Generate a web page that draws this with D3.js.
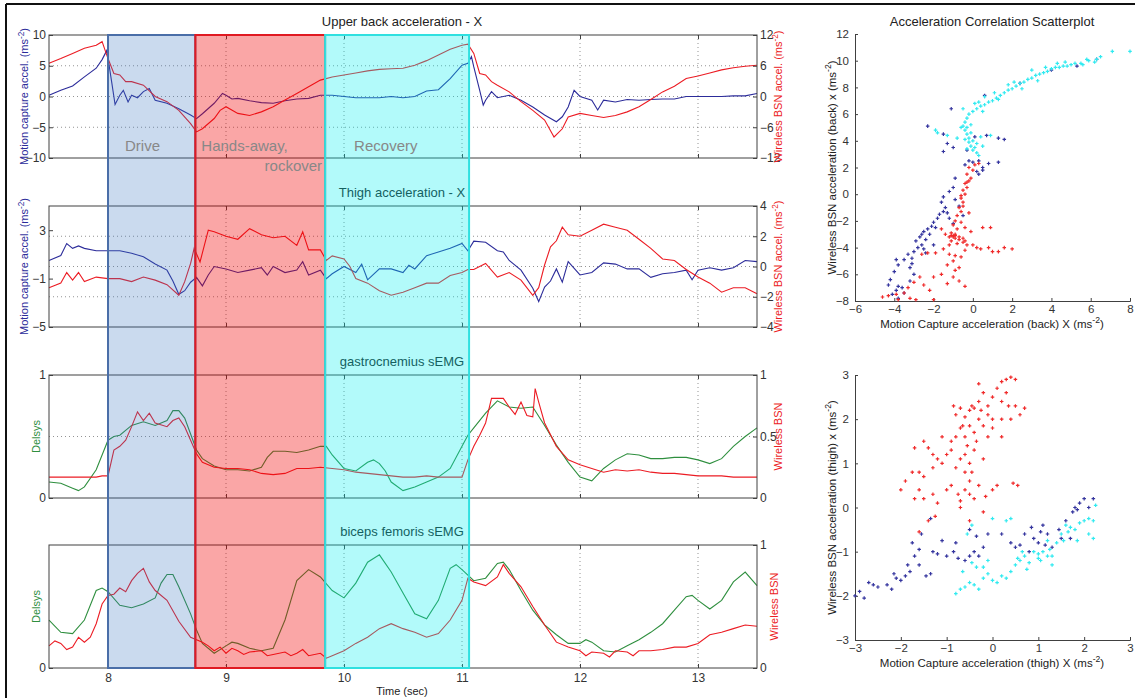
<!DOCTYPE html>
<html>
<head>
<meta charset="utf-8">
<script src="https://d3js.org/d3.v7.min.js"></script>
<style>
  body { margin: 0; background: #fff; }
  svg { display: block; font-family: "Liberation Sans", Arial, sans-serif; }
</style>
</head>
<body>
<div id="chart-area"></div>
<script>
// ---- data ----
const timeTicks = [8, 9, 10, 11, 12, 13];
const phaseNames = ["Drive", "Hands-away,", "Recovery"];
const phaseStart = [8.0, 8.74, 9.84];
const phaseEnd = [8.74, 9.84, 11.06];

// upper back, [time, value]
const backMocap = [[7.5,0.2],[7.6,1.0],[7.7,1.7],[7.8,3.2],[7.9,4.6],[7.95,6],[7.99,7.5],[8.03,2.5],[8.06,-1.3],[8.1,0.2],[8.13,1.0],[8.17,-0.9],[8.2,0.2],[8.25,-0.2],[8.3,0.8],[8.35,1.3],[8.4,-0.6],[8.5,-1.1],[8.6,-2],[8.7,-3],[8.75,-3.6],[8.8,-2.8],[8.9,-1.1],[8.97,0.5],[9.0,0.2],[9.05,-0.4],[9.1,-0.3],[9.2,-0.7],[9.3,-1],[9.4,-1.1],[9.5,-0.7],[9.6,-0.4],[9.7,-0.3],[9.8,0.2],[9.9,0.2],[10.0,0],[10.1,-0.2],[10.2,-0.2],[10.3,-0.2],[10.4,0],[10.5,-0.2],[10.6,0],[10.7,0.9],[10.8,1.1],[10.9,2.9],[11.0,5.1],[11.05,5.4],[11.08,6.5],[11.1,4.8],[11.15,1],[11.18,-1.4],[11.2,-0.6],[11.25,0.8],[11.3,-0.2],[11.4,0.2],[11.5,-0.6],[11.6,-1.7],[11.7,-3],[11.8,-4.1],[11.85,-3.3],[11.9,-1.7],[11.95,1],[12.0,0],[12.1,-0.6],[12.15,-2.2],[12.2,-0.6],[12.3,-0.9],[12.4,-0.5],[12.5,-0.6],[12.6,-0.5],[12.7,-0.4],[12.8,-0.4],[12.9,0],[13.0,0],[13.1,0],[13.2,0],[13.3,0.1],[13.4,0.1],[13.5,0.5]];
const backBsn = [[7.5,6.5],[7.6,7.4],[7.7,8.4],[7.8,9.4],[7.9,10],[7.95,10.7],[8.0,7.4],[8.05,4.5],[8.1,4.2],[8.15,2.9],[8.2,2.9],[8.3,2.2],[8.4,0],[8.5,-1],[8.6,-2.7],[8.7,-5.3],[8.75,-6.9],[8.8,-6.3],[8.9,-4.3],[8.95,-2.7],[9.0,-2],[9.1,-3.3],[9.2,-3.7],[9.3,-3],[9.4,-2],[9.5,-0.7],[9.6,0.6],[9.7,1.9],[9.8,3.2],[9.9,3.8],[10.0,4.2],[10.1,4.6],[10.2,5],[10.3,5.3],[10.4,5.4],[10.5,5.5],[10.6,6.1],[10.7,7],[10.8,8.1],[10.9,9.2],[11.0,10],[11.05,10.2],[11.1,8.4],[11.15,4.5],[11.2,4.2],[11.25,2.9],[11.3,2.2],[11.4,0.9],[11.5,-1],[11.6,-2.7],[11.7,-4.6],[11.78,-7.9],[11.85,-6.3],[11.9,-4],[12.0,-3.3],[12.1,-3.7],[12.2,-4.1],[12.3,-3.7],[12.4,-3],[12.5,-2],[12.6,-0.6],[12.7,0.9],[12.8,2],[12.9,3.5],[13.0,4],[13.1,4.6],[13.2,5.2],[13.3,5.6],[13.4,5.9],[13.5,6.1]];

// thigh
const thighMocap = [[7.5,0.5],[7.6,0.9],[7.65,1.9],[7.7,1.5],[7.75,1.7],[7.8,1.5],[7.9,1.3],[8.0,1.3],[8.1,1.3],[8.2,1.1],[8.3,0.8],[8.4,0.2],[8.5,-0.3],[8.55,-1.2],[8.6,-2.3],[8.65,-2],[8.7,-1.3],[8.75,-0.9],[8.8,-1.6],[8.85,-0.7],[8.9,0],[9.0,-0.2],[9.1,-0.5],[9.2,-0.3],[9.3,-0.1],[9.35,-0.7],[9.4,0],[9.5,-0.5],[9.6,-0.3],[9.65,0.4],[9.7,-0.7],[9.8,-0.3],[9.85,-1],[9.9,-0.6],[10.0,0],[10.1,-0.5],[10.15,0.2],[10.2,-1.1],[10.3,-0.2],[10.4,-0.2],[10.5,-0.5],[10.55,0.1],[10.6,-0.2],[10.7,0.9],[10.8,1.2],[10.9,1.5],[11.0,1.9],[11.05,1.3],[11.1,2.1],[11.2,2],[11.3,1.3],[11.35,1.2],[11.4,0.5],[11.5,-0.3],[11.6,-1.8],[11.65,-2.9],[11.7,-1.7],[11.75,-1.2],[11.8,-0.2],[11.85,-1.3],[11.9,0.4],[12.0,-0.7],[12.1,-0.5],[12.2,0.3],[12.3,0.2],[12.4,-0.2],[12.5,-0.2],[12.6,-0.9],[12.7,-0.6],[12.8,-0.5],[12.9,-0.3],[12.95,-1.1],[13.0,-0.3],[13.1,-0.1],[13.2,-0.3],[13.3,-0.1],[13.4,0.5],[13.5,0.4]];
const thighBsn = [[7.5,-1.4],[7.6,-1.1],[7.65,-0.4],[7.7,-0.9],[7.75,-0.4],[7.8,-1],[7.9,-0.7],[8.0,-0.8],[8.1,-0.8],[8.2,-1],[8.3,-0.7],[8.4,-0.9],[8.5,-1.2],[8.6,-1.9],[8.65,-1],[8.7,0.2],[8.73,1.2],[8.78,0.3],[8.85,2.4],[8.9,2.3],[9.0,2],[9.1,1.8],[9.2,2.5],[9.3,2.1],[9.4,1.9],[9.5,2],[9.6,1.4],[9.65,2.3],[9.7,1.1],[9.8,1.1],[9.85,0.4],[9.9,0.7],[10.0,0.5],[10.05,0],[10.1,-0.8],[10.2,-1.1],[10.3,-1.6],[10.4,-1.9],[10.5,-1.7],[10.6,-1.4],[10.7,-1.1],[10.8,-1.1],[10.9,-0.6],[11.0,-0.4],[11.05,-0.2],[11.1,-0.2],[11.2,0.2],[11.3,-0.7],[11.4,-0.4],[11.5,-0.9],[11.6,-1.9],[11.65,-1.4],[11.7,0.1],[11.75,1.3],[11.8,1.7],[11.85,2.6],[11.9,2.1],[12.0,2],[12.1,2.4],[12.2,2.8],[12.3,2.6],[12.4,2.4],[12.5,1.8],[12.6,1.2],[12.7,0.5],[12.8,0.4],[12.9,-0.2],[13.0,-0.7],[13.1,-1.1],[13.2,-1.7],[13.3,-1.4],[13.4,-1.4],[13.5,-1.8]];

// gastrocnemius sEMG
const gastroDelsys = [[7.5,0.13],[7.6,0.12],[7.7,0.08],[7.75,0.06],[7.8,0.09],[7.9,0.23],[7.95,0.35],[8.0,0.47],[8.05,0.5],[8.1,0.51],[8.2,0.59],[8.3,0.62],[8.4,0.59],[8.5,0.63],[8.55,0.71],[8.6,0.71],[8.65,0.65],[8.7,0.52],[8.75,0.39],[8.8,0.32],[8.9,0.26],[9.0,0.23],[9.1,0.23],[9.2,0.22],[9.3,0.25],[9.35,0.33],[9.4,0.38],[9.5,0.38],[9.6,0.37],[9.7,0.39],[9.8,0.42],[9.85,0.42],[9.9,0.35],[10.0,0.24],[10.1,0.22],[10.2,0.29],[10.25,0.31],[10.3,0.28],[10.35,0.22],[10.4,0.13],[10.5,0.06],[10.6,0.09],[10.7,0.13],[10.8,0.17],[10.9,0.24],[11.0,0.42],[11.05,0.51],[11.1,0.57],[11.2,0.69],[11.3,0.79],[11.4,0.74],[11.5,0.73],[11.6,0.74],[11.7,0.59],[11.8,0.43],[11.9,0.29],[12.0,0.17],[12.1,0.14],[12.2,0.24],[12.3,0.31],[12.4,0.36],[12.5,0.35],[12.6,0.32],[12.7,0.32],[12.8,0.33],[12.9,0.33],[13.0,0.31],[13.1,0.28],[13.2,0.32],[13.3,0.42],[13.4,0.5],[13.5,0.57]];
const gastroBsn = [[7.5,0.17],[7.6,0.17],[7.7,0.17],[7.8,0.17],[7.9,0.17],[7.95,0.18],[8.0,0.18],[8.05,0.39],[8.1,0.42],[8.15,0.47],[8.2,0.58],[8.25,0.7],[8.3,0.63],[8.35,0.69],[8.4,0.61],[8.5,0.58],[8.55,0.63],[8.6,0.65],[8.65,0.58],[8.7,0.47],[8.75,0.36],[8.8,0.29],[8.9,0.25],[9.0,0.24],[9.1,0.24],[9.2,0.23],[9.3,0.2],[9.4,0.19],[9.5,0.2],[9.6,0.24],[9.7,0.24],[9.8,0.25],[9.9,0.24],[10.0,0.23],[10.1,0.21],[10.2,0.2],[10.3,0.19],[10.4,0.18],[10.5,0.17],[10.6,0.17],[10.7,0.18],[10.8,0.17],[10.9,0.17],[11.0,0.17],[11.05,0.31],[11.1,0.42],[11.15,0.51],[11.2,0.61],[11.25,0.81],[11.3,0.81],[11.35,0.81],[11.4,0.74],[11.45,0.68],[11.5,0.78],[11.55,0.67],[11.6,0.66],[11.62,0.89],[11.65,0.78],[11.7,0.61],[11.8,0.42],[11.9,0.31],[12.0,0.27],[12.1,0.24],[12.2,0.21],[12.3,0.23],[12.4,0.22],[12.5,0.23],[12.6,0.21],[12.7,0.2],[12.8,0.2],[12.9,0.19],[13.0,0.18],[13.1,0.18],[13.2,0.18],[13.3,0.17],[13.4,0.17],[13.5,0.17]];

// biceps femoris sEMG
const bicepsDelsys = [[7.5,0.39],[7.6,0.29],[7.7,0.28],[7.8,0.39],[7.9,0.63],[7.95,0.65],[8.0,0.62],[8.1,0.51],[8.2,0.49],[8.3,0.52],[8.4,0.57],[8.45,0.69],[8.5,0.76],[8.55,0.76],[8.6,0.66],[8.7,0.44],[8.75,0.31],[8.8,0.2],[8.9,0.12],[9.0,0.18],[9.05,0.21],[9.1,0.2],[9.2,0.16],[9.3,0.14],[9.4,0.16],[9.5,0.39],[9.6,0.71],[9.7,0.8],[9.8,0.74],[9.9,0.63],[10.0,0.57],[10.1,0.69],[10.2,0.86],[10.3,0.92],[10.4,0.78],[10.5,0.61],[10.6,0.44],[10.7,0.4],[10.8,0.55],[10.9,0.81],[10.95,0.84],[11.0,0.8],[11.1,0.71],[11.2,0.73],[11.3,0.85],[11.35,0.86],[11.4,0.8],[11.5,0.63],[11.6,0.47],[11.7,0.35],[11.8,0.27],[11.9,0.2],[12.0,0.2],[12.05,0.23],[12.1,0.21],[12.2,0.14],[12.3,0.13],[12.4,0.18],[12.5,0.23],[12.6,0.29],[12.7,0.36],[12.8,0.47],[12.9,0.58],[12.95,0.59],[13.0,0.55],[13.1,0.48],[13.2,0.55],[13.3,0.7],[13.4,0.78],[13.5,0.67]];
const bicepsBsn = [[7.5,0.18],[7.55,0.22],[7.6,0.2],[7.65,0.15],[7.7,0.17],[7.75,0.25],[7.8,0.21],[7.85,0.25],[7.9,0.36],[7.95,0.52],[8.0,0.59],[8.05,0.6],[8.1,0.65],[8.15,0.62],[8.2,0.71],[8.25,0.77],[8.3,0.81],[8.35,0.7],[8.4,0.63],[8.5,0.55],[8.6,0.38],[8.7,0.25],[8.8,0.21],[8.85,0.18],[8.9,0.14],[8.95,0.17],[9.0,0.12],[9.05,0.16],[9.1,0.14],[9.15,0.11],[9.2,0.13],[9.3,0.14],[9.35,0.1],[9.4,0.11],[9.5,0.13],[9.55,0.1],[9.6,0.12],[9.65,0.15],[9.7,0.1],[9.8,0.12],[9.85,0.08],[9.9,0.1],[10.0,0.14],[10.1,0.2],[10.2,0.25],[10.3,0.32],[10.4,0.36],[10.5,0.32],[10.6,0.29],[10.7,0.25],[10.8,0.28],[10.9,0.39],[11.0,0.55],[11.05,0.73],[11.1,0.7],[11.2,0.67],[11.3,0.74],[11.35,0.84],[11.4,0.77],[11.5,0.66],[11.6,0.5],[11.7,0.35],[11.8,0.21],[11.9,0.17],[12.0,0.14],[12.05,0.1],[12.1,0.13],[12.2,0.12],[12.25,0.09],[12.3,0.14],[12.4,0.13],[12.45,0.1],[12.5,0.14],[12.6,0.14],[12.7,0.15],[12.8,0.17],[12.9,0.17],[13.0,0.2],[13.1,0.27],[13.2,0.29],[13.3,0.32],[13.4,0.35],[13.5,0.34]];

// y tick labels of the time panels
const backLeftTicks = [-10, -5, 0, 5, 10];
const backRightTicks = [-12, -6, 0, 6, 12];
const thighLeftTicks = [-5, -1, 3];
const thighRightTicks = [-4, -2, 0, 2, 4];
const gastroLeftTicks = [0, 1];
const gastroRightTicks = [0, 0.5, 1];
const bicepsLeftTicks = [0];
const bicepsRightTicks = [0, 1];

// scatter plots, [motion capture, wireless BSN]
const backDrive = [[-1.5,4.5],[-1.3,3.8],[-1.5,3.2],[-1.0,3.5],[0.3,2.5],[0.8,2.3],[1.3,2.4],[0.5,1.8],[0.3,1.5],[0.5,2.0],[-0.2,2.5],[0,2.4],[-0.4,2.2],[0.7,4.4],[1.3,4.2],[1.6,4.1],[-1.1,6.4],[-2.3,5.1],[0.1,4.3],[-0.9,1.2],[-1.0,0.5],[-1.2,0.2],[-1.5,-0.2],[-0.9,-0.4],[-1.6,-0.6],[-1.4,-1.0],[-1.5,-1.3],[-1.7,-1.5],[-1.8,-1.8],[-2.0,-2.1],[-2.1,-2.4],[-2.3,-2.6],[-2.5,-2.8],[-2.2,-3.0],[-2.7,-3.2],[-2.4,-3.4],[-2.9,-3.5],[-2.6,-3.8],[-2.0,-3.8],[-2.5,-4.1],[-3.0,-4.3],[-2.8,-4.0],[-3.3,-4.5],[-3.5,-4.9],[-3.1,-4.8],[-3.9,-4.9],[-3.8,-5.3],[-4.0,-5.8],[-4.2,-6.4],[-4.3,-6.8],[-3.8,-6.9],[-3.9,-7.2],[-3.6,-7.0],[-4.1,-7.5],[-3.8,-7.8],[-3.5,-7.4],[-3.2,-6.5],[-3.0,-6.0],[-3.2,-5.5],[-3.1,-5.2],[-2.4,-4.4],[-1.0,-2.2],[-0.5,-1.6],[-0.7,-0.9],[-1.2,-1.8],[-0.3,3.3],[6.3,10.1],[5.3,9.6],[4.0,9.3],[2.4,8.3],[0.6,7.4],[0.2,1.7],[-1.3,-1.4],[-2.6,-3.0],[-1.9,-2.5]];
const backHands = [[0.3,2.3],[-0.2,2.0],[0,1.8],[-0.3,1.5],[-0.1,1.2],[-0.4,0.8],[-0.3,0.5],[-0.5,0.3],[-0.4,0],[-0.6,-0.3],[-0.5,-0.6],[-0.7,-1.0],[-0.6,-1.3],[-0.8,-1.6],[-0.9,-2.0],[-1.0,-2.3],[-0.8,-2.6],[-1.1,-2.9],[-1.0,-3.1],[-1.2,-3.2],[-0.9,-3.3],[-0.7,-3.4],[-0.5,-3.6],[-0.3,-3.8],[0,-3.8],[-1.4,-3.0],[-1.6,-2.6],[-1.2,-3.8],[-0.4,-4.2],[0.2,-4.0],[0.4,-4.1],[0.8,-4.0],[1.0,-4.3],[1.3,-4.3],[1.6,-4.0],[2.0,-4.1],[0.5,-2.5],[0.9,-2.5],[-0.4,-2.5],[-0.1,-2.8],[-1.5,-4.1],[-1.9,-4.4],[-2.3,-4.4],[-2.6,-4.5],[-1.2,-4.5],[-0.9,-4.6],[-0.6,-4.7],[-1.0,-5.0],[-1.3,-5.3],[-0.9,-5.7],[-0.7,-5.5],[-1.6,-6.0],[-1.0,-6.2],[-0.7,-6.5],[-0.4,-6.9],[-1.3,-6.7],[-2.0,-6.2],[-2.7,-6.2],[-3.0,-6.6],[-2.5,-6.8],[-2.2,-7.2],[-3.3,-7.0],[-3.5,-7.4],[-3.9,-7.5],[-4.6,-7.7],[-4.3,-7.6],[-3.2,-7.8],[-2.9,-7.9],[-3.8,-7.9],[-2.0,-7.9],[-0.9,-3.0],[-0.8,-3.7],[-1.1,-3.5],[-0.6,-2.1],[-0.2,-1.4],[-0.3,0.9],[0.1,2.2],[-0.2,1.0],[-1.0,-3.2],[-0.9,-3.1],[-1.1,-3.1],[-0.7,-3.2],[-0.5,-3.3],[-0.4,-3.5],[-0.6,-0.1],[-0.5,-0.9]];
const backRecovery = [[8.0,10.7],[7.1,10.7],[6.5,10.3],[6.3,10.1],[6.2,9.9],[5.9,10],[5.5,9.8],[5.2,9.8],[5.0,9.7],[4.8,9.6],[4.6,9.6],[4.4,9.5],[4.2,9.5],[4.0,9.4],[3.8,9.2],[3.6,9.1],[3.4,9.0],[3.2,8.9],[3.0,8.7],[2.8,8.6],[2.6,8.4],[2.4,8.3],[2.2,8.1],[2.0,7.9],[1.8,7.8],[1.6,7.6],[1.4,7.4],[1.2,7.2],[1.0,7.0],[0.8,6.9],[0.6,6.7],[0.4,6.6],[0.2,6.4],[0.0,6.2],[-0.2,6.0],[-0.3,5.7],[-0.4,5.4],[-0.5,5.1],[-0.4,4.8],[-0.3,4.5],[-0.2,4.2],[-0.2,3.9],[-0.1,3.6],[0.0,3.3],[0.2,3.1],[0.3,2.9],[0.0,4.0],[0.4,4.3],[0.5,3.6],[-0.6,5.0],[-0.1,5.2],[0.5,6.2],[1.1,7.6],[2.5,7.9],[3.3,8.5],[4.3,9.8],[5.6,9.7],[-1.9,4.8],[-1.8,4.6],[-1.3,4.4],[0.9,4.4],[0.1,6.8],[-0.5,6.4],[0.6,7.3],[1.8,8.2],[3.0,9.3],[-0.8,4.2],[0.2,3.8],[-0.3,3.4],[-0.1,4.6],[-0.3,5.0],[0.1,3.5],[-0.4,4.1],[4.7,9.9],[5.8,10.1],[3.7,9.5],[2.1,8.4],[1.3,7.1],[0.3,6.9]];

const thighDrive = [[-3,-2.0],[-2.9,-1.9],[-2.8,-2.05],[-2.7,-1.7],[-2.6,-1.75],[-2.5,-1.8],[-2.3,-1.75],[-2.2,-1.85],[-2.15,-1.5],[-2.1,-1.6],[-2.0,-1.65],[-1.9,-1.55],[-1.8,-1.45],[-1.85,-1.3],[-1.7,-1.1],[-1.6,-1.3],[-1.75,-0.8],[-1.6,-0.95],[-1.45,-1.55],[-1.35,-1.5],[-1.3,-1.0],[-1.2,-1.05],[-1.0,-1.1],[-0.85,-1.0],[-0.8,-0.8],[-0.6,-1.2],[-0.5,-1.1],[-0.4,-1.0],[-0.3,-1.1],[-0.2,-0.9],[-0.35,-0.65],[-0.5,-0.5],[-0.1,-0.6],[0.2,-0.6],[0.4,-0.8],[0.5,-0.9],[0.6,-0.85],[0.7,-0.6],[0.85,-0.45],[0.9,-0.7],[1.0,-0.8],[1.05,-0.55],[1.1,-0.4],[1.15,-0.85],[1.2,-0.6],[1.3,-0.9],[1.45,-0.5],[1.6,-0.3],[1.75,-0.1],[1.8,0.0],[1.85,-0.05],[1.9,0.1],[2.0,0.2],[2.1,0.0],[2.2,0.2],[1.5,-0.7],[1.7,-0.7],[0.8,-1.0],[-1.35,-0.25],[-0.75,-1.15],[-1.55,-0.6],[-1.1,-0.75]];
const thighHands = [[0.3,2.9],[0.4,2.95],[0.5,2.9],[0.2,2.85],[0.1,2.7],[0.3,2.6],[-0.2,2.6],[0,2.5],[0.2,2.4],[0.5,2.3],[0.7,2.25],[0.4,2.0],[0.6,2.1],[0.2,2.0],[-0.1,2.3],[-0.3,2.4],[-0.4,2.25],[-0.5,2.2],[-0.7,2.25],[-0.8,2.1],[-0.85,2.3],[-0.6,2.05],[-0.3,2.0],[-0.1,2.1],[-0.2,1.85],[-0.5,1.85],[-0.7,1.8],[-0.4,1.7],[-0.6,1.6],[-0.8,1.6],[-0.9,1.5],[-0.55,1.4],[-0.35,1.5],[-0.1,1.6],[0,1.8],[-0.6,1.2],[-0.7,1.1],[-0.8,0.9],[-0.6,0.8],[-0.5,1.0],[-0.4,1.3],[-0.9,1.3],[-1.0,1.2],[-1.1,1.0],[-1.2,1.1],[-1.3,0.9],[-1.5,1.5],[-1.4,1.35],[-1.1,1.6],[-1.3,1.2],[-1.7,1.35],[-1.6,0.8],[-1.5,0.7],[-1.9,0.6],[-2.0,0.4],[-1.7,0.2],[-1.5,0.2],[-1.6,0.4],[-1.3,0.3],[-1.2,0.1],[-0.9,0.5],[-1.0,0.4],[-0.75,0.3],[-0.7,0.15],[-0.6,0.4],[-0.5,0.6],[-0.4,0.2],[-0.5,0.3],[-0.3,0.5],[-0.15,0.25],[0.0,0.4],[0.1,0.5],[0.45,0.55],[0.55,0.5],[-0.7,0.0],[-0.5,-0.3],[-0.2,-0.1],[-1.4,-0.3],[-1.6,-0.55],[-1.25,-0.2],[-1.75,0.8],[-0.2,1.1],[0.2,1.6],[-0.45,0.8],[0.0,2.0],[-0.3,2.8],[0.35,2.3],[-0.65,1.85],[-0.25,2.2],[-0.45,2.3]];
const thighRecovery = [[-0.8,-1.95],[-0.7,-1.85],[-0.6,-1.8],[-0.5,-1.7],[-0.4,-1.75],[-0.3,-1.85],[-0.2,-1.6],[-0.1,-1.5],[0.0,-1.65],[0.1,-1.7],[0.2,-1.55],[0.3,-1.6],[0.4,-1.45],[0.5,-1.3],[0.55,-1.15],[0.6,-1.2],[0.7,-1.1],[0.8,-1.25],[0.9,-1.0],[1.0,-1.05],[1.1,-1.0],[1.2,-1.1],[1.25,-0.95],[1.3,-1.1],[1.4,-0.8],[1.5,-0.6],[1.6,-0.4],[1.7,-0.45],[1.8,-0.5],[1.9,-0.35],[2.0,-0.3],[2.1,-0.25],[2.2,-0.3],[2.2,-0.7],[2.25,0.05],[2.1,-0.6],[1.85,-0.75],[1.55,-0.75],[-0.45,-1.25],[-0.35,-1.35],[-0.55,-0.6],[-0.45,-0.4],[-0.1,-1.2],[0.0,-0.25],[0.3,-0.3],[0.4,-0.25],[-0.2,-1.35],[-0.65,-1.45],[0.75,-1.4],[1.0,-1.15],[1.3,-1.3],[1.2,-0.75],[0.65,-1.0],[1.05,-1.2],[1.65,-0.55]];

const backScatterXTicks = [-6, -4, -2, 0, 2, 4, 6, 8];
const backScatterYTicks = [-8, -6, -4, -2, 0, 2, 4, 6, 8, 10, 12];
const thighScatterTicks = [-3, -2, -1, 0, 1, 2, 3];

// ---- colours ----
const blue = "#2c2c9a";
const red = "#ec1c24";
const green = "#2f8f3f";
const axisColor = "#404040";

const svg = d3.select("#chart-area").append("svg")
    .attr("width", 1135)
    .attr("height", 698);

// frame of the original figure
svg.append("line").attr("x1", 6).attr("x2", 1135).attr("y1", 4).attr("y2", 4)
    .attr("stroke", "#111").attr("stroke-width", 2);
svg.append("line").attr("x1", 6).attr("x2", 6).attr("y1", 4).attr("y2", 698)
    .attr("stroke", "#111").attr("stroke-width", 2);

const x = d3.scaleLinear().domain([7.5, 13.5]).range([49, 757]);

// unit label "(ms-2)" with a superscript
function unitLabel(sel, text) {
    sel.append("tspan").text(text + " (ms");
    sel.append("tspan").attr("baseline-shift", "super").attr("font-size", "75%").text("-2");
    sel.append("tspan").text(")");
}

const panels = [
    { title: "Upper back acceleration - X", top: 35, bottom: 158,
      leftDomain: [-10, 10], leftTicks: backLeftTicks, rightDomain: [-12, 12], rightTicks: backRightTicks,
      grid: [-6, 0, 6], leftData: backMocap, rightData: backBsn, leftColor: blue,
      leftLabel: "Motion capture accel.", rightLabel: "Wireless BSN accel.", units: true },
    { title: "Thigh acceleration - X", top: 206, bottom: 327,
      leftDomain: [-5, 5], leftTicks: thighLeftTicks, rightDomain: [-4, 4], rightTicks: thighRightTicks,
      grid: [-2, 0, 2], leftData: thighMocap, rightData: thighBsn, leftColor: blue,
      leftLabel: "Motion capture accel.", rightLabel: "Wireless BSN accel.", units: true },
    { title: "gastrocnemius sEMG", top: 375, bottom: 498,
      leftDomain: [0, 1], leftTicks: gastroLeftTicks, rightDomain: [0, 1], rightTicks: gastroRightTicks,
      grid: [0.5], leftData: gastroDelsys, rightData: gastroBsn, leftColor: green,
      leftLabel: "Delsys", rightLabel: "Wireless BSN", units: false },
    { title: "biceps femoris sEMG", top: 545, bottom: 668,
      leftDomain: [0, 1], leftTicks: bicepsLeftTicks, rightDomain: [0, 1], rightTicks: bicepsRightTicks,
      grid: [], leftData: bicepsDelsys, rightData: bicepsBsn, leftColor: green,
      leftLabel: "Delsys", rightLabel: "Wireless BSN", units: false }
];

panels.forEach((p, i) => {
    const yL = d3.scaleLinear().domain(p.leftDomain).range([p.bottom, p.top]);
    const yR = d3.scaleLinear().domain(p.rightDomain).range([p.bottom, p.top]);
    const g = svg.append("g");

    // dotted grid
    g.selectAll(".vgrid").data(timeTicks).enter().append("line")
        .attr("x1", d => x(d)).attr("x2", d => x(d))
        .attr("y1", p.top).attr("y2", p.bottom)
        .attr("stroke", "#777").attr("stroke-width", 0.8).attr("stroke-dasharray", "1,3");
    g.selectAll(".hgrid").data(p.grid).enter().append("line")
        .attr("x1", x.range()[0]).attr("x2", x.range()[1])
        .attr("y1", d => yR(d)).attr("y2", d => yR(d))
        .attr("stroke", "#777").attr("stroke-width", 0.8).attr("stroke-dasharray", "1,3");

    // the two signals
    const lineL = d3.line().x(d => x(d[0])).y(d => yL(d[1]));
    const lineR = d3.line().x(d => x(d[0])).y(d => yR(d[1]));
    g.append("path").attr("d", lineL(p.leftData))
        .attr("fill", "none").attr("stroke", p.leftColor).attr("stroke-width", 1.1);
    g.append("path").attr("d", lineR(p.rightData))
        .attr("fill", "none").attr("stroke", red).attr("stroke-width", 1.1);

    // box
    g.append("rect").attr("x", x.range()[0]).attr("y", p.top)
        .attr("width", x.range()[1] - x.range()[0]).attr("height", p.bottom - p.top)
        .attr("fill", "none").attr("stroke", axisColor).attr("stroke-width", 1);

    // axes, ticks pointing inwards
    const left = g.append("g").attr("transform", `translate(${x.range()[0]},0)`)
        .call(d3.axisLeft(yL).tickValues(p.leftTicks).tickSize(-4).tickPadding(3).tickFormat(d3.format("")));
    const right = g.append("g").attr("transform", `translate(${x.range()[1]},0)`)
        .call(d3.axisRight(yR).tickValues(p.rightTicks).tickSize(-4).tickPadding(3).tickFormat(d3.format("")));
    const topAx = g.append("g").attr("transform", `translate(0,${p.top})`)
        .call(d3.axisTop(x).tickValues(timeTicks).tickSize(-4).tickFormat(""));
    const bottomAx = g.append("g").attr("transform", `translate(0,${p.bottom})`)
        .call(d3.axisBottom(x).tickValues(timeTicks).tickSize(-4).tickPadding(5)
            .tickFormat(i === 3 ? d3.format("") : ""));
    [left, right, topAx, bottomAx].forEach(a => {
        a.select(".domain").remove();
        a.selectAll("line").attr("stroke", axisColor);
        a.selectAll("text").attr("fill", "#333").attr("font-size", 12)
            .attr("font-family", "Liberation Sans, Arial, sans-serif");
    });

    // panel title
    g.append("text").attr("x", 402).attr("y", p.top - 9).attr("text-anchor", "middle")
        .attr("font-size", 13).attr("fill", "#222").text(p.title);

    // axis labels
    const mid = (p.top + p.bottom) / 2;
    const ll = g.append("text").attr("transform", `translate(${p.units ? 28 : 40},${mid}) rotate(-90)`)
        .attr("text-anchor", "middle").attr("font-size", 11).attr("fill", p.leftColor);
    const rl = g.append("text").attr("transform", `translate(${i === 3 ? 778 : 782},${mid}) rotate(-90)`)
        .attr("text-anchor", "middle").attr("font-size", 11).attr("fill", red);
    if (p.units) { unitLabel(ll, p.leftLabel); unitLabel(rl, p.rightLabel); }
    else { ll.text(p.leftLabel); rl.text(p.rightLabel); }
});

svg.append("text").attr("x", 402).attr("y", 695).attr("text-anchor", "middle")
    .attr("font-size", 11).attr("fill", "#222").text("Time (sec)");

// phase bands laid over all four panels
const bandFill = ["#3a78c0", "#f00000", "#00f0f0"];
const bandFillOpacity = [0.27, 0.35, 0.3];
const bandStroke = ["#4a6ea8", "#e01a22", "#2fe0e0"];
svg.selectAll(".band").data(phaseStart).enter().append("rect")
    .attr("x", (d, i) => x(d))
    .attr("y", 35)
    .attr("width", (d, i) => x(phaseEnd[i]) - x(d))
    .attr("height", 668 - 35)
    .attr("fill", (d, i) => bandFill[i])
    .attr("fill-opacity", (d, i) => bandFillOpacity[i])
    .attr("stroke", (d, i) => bandStroke[i])
    .attr("stroke-width", 2);

svg.selectAll(".phase").data(phaseNames).enter().append("text")
    .attr("x", (d, i) => x(phaseStart[i]) + [17, 6, 29][i])
    .attr("y", 151)
    .attr("font-size", 15).attr("fill", "#888").text(d => d);
svg.append("text").attr("x", x(phaseEnd[1]) - 3).attr("y", 171).attr("text-anchor", "end")
    .attr("font-size", 15).attr("fill", "#888").text("rockover");

// ---- correlation scatterplots ----
function scatter(cfg) {
    const sx = d3.scaleLinear().domain(cfg.xDomain).range([855, 1130]);
    const sy = d3.scaleLinear().domain(cfg.yDomain).range([cfg.bottom, cfg.top]);
    const g = svg.append("g");

    const ax = g.append("g").attr("transform", `translate(0,${cfg.bottom})`)
        .call(d3.axisBottom(sx).tickValues(cfg.xTicks).tickSize(-3).tickPadding(4).tickFormat(d3.format("")));
    const ay = g.append("g").attr("transform", "translate(855,0)")
        .call(d3.axisLeft(sy).tickValues(cfg.yTicks).tickSize(-3).tickPadding(6).tickFormat(d3.format("")));
    [ax, ay].forEach(a => {
        a.select(".domain").attr("stroke", axisColor);
        a.selectAll("line").attr("stroke", axisColor);
        a.selectAll("text").attr("fill", "#333").attr("font-size", 11.5)
            .attr("font-family", "Liberation Sans, Arial, sans-serif");
    });

    const groups = [[cfg.drive, "#34349e"], [cfg.hands, "#f02a2a"], [cfg.recovery, "#30eaf0"]];
    const sym = d3.symbol().type(d3.symbolCross).size(7);
    groups.forEach(([pts, col]) => {
        g.append("g").selectAll("path").data(pts).enter().append("path")
            .attr("d", sym)
            .attr("transform", d => `translate(${sx(d[0])},${sy(d[1])})`)
            .attr("fill", col);
    });

    const xl = g.append("text").attr("x", 992).attr("y", cfg.bottom + 27).attr("text-anchor", "middle")
        .attr("font-size", 11.5).attr("fill", "#222");
    unitLabel(xl, cfg.xLabel);
    const yl = g.append("text").attr("transform", `translate(836,${(cfg.top + cfg.bottom) / 2}) rotate(-90)`)
        .attr("text-anchor", "middle").attr("font-size", 11.5).attr("fill", "#222");
    unitLabel(yl, cfg.yLabel);
}

svg.append("text").attr("x", 992).attr("y", 26).attr("text-anchor", "middle")
    .attr("font-size", 13).attr("fill", "#222").text("Acceleration Correlation Scatterplot");

scatter({ top: 34, bottom: 301, xDomain: [-6, 8], yDomain: [-8, 12],
    xTicks: backScatterXTicks, yTicks: backScatterYTicks,
    drive: backDrive, hands: backHands, recovery: backRecovery,
    xLabel: "Motion Capture acceleration (back) X", yLabel: "Wireless BSN acceleration (back) x" });
scatter({ top: 375, bottom: 640, xDomain: [-3, 3], yDomain: [-3, 3],
    xTicks: thighScatterTicks, yTicks: thighScatterTicks,
    drive: thighDrive, hands: thighHands, recovery: thighRecovery,
    xLabel: "Motion Capture acceleration (thigh) X", yLabel: "Wireless BSN acceleration (thigh) x" });
</script>
</body>
</html>
